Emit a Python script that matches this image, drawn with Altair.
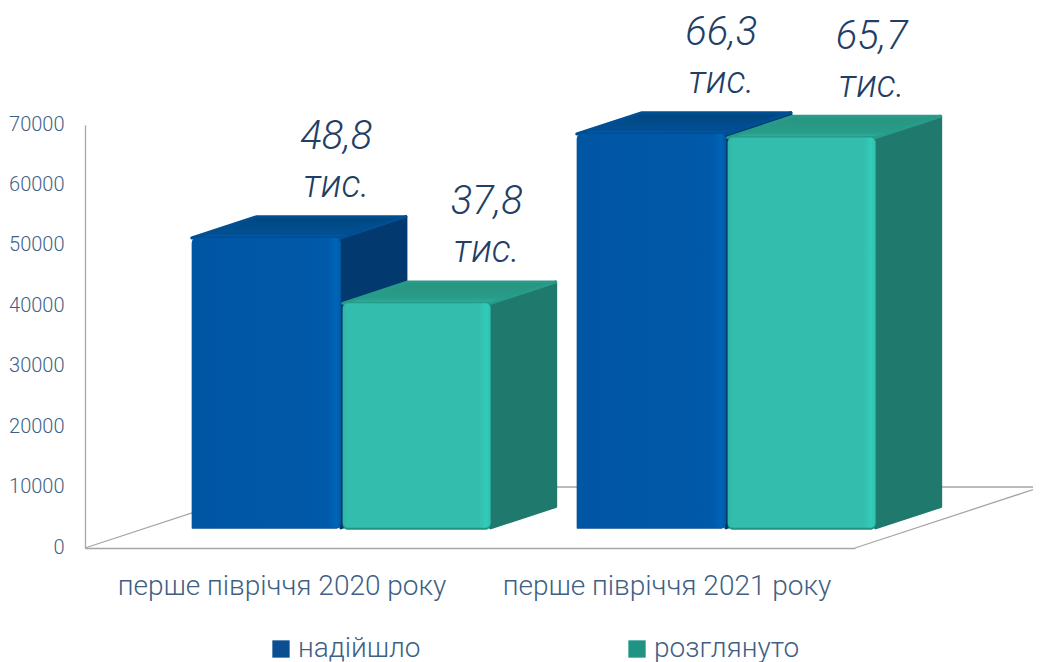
import altair as alt
import pandas as pd

categories = ["перше півріччя 2020 року", "перше півріччя 2021 року"]
series = ["надійшло", "розглянуто"]
received = [48800, 66300]
reviewed = [37800, 65700]
value_labels = [["48,8", "66,3"], ["37,8", "65,7"]]
y_ticks = [0, 10000, 20000, 30000, 40000, 50000, 60000, 70000]

# oblique projection of the 3D chart onto the flat x / y scales
PX_PER_CAT, PX_PER_UNIT = 385.0, 423.0 / 70000
DEPTH_X, DEPTH_Y = 186.0, 61.0
D_FRONT, D_BACK = 0.33, 0.68
SHRINK = 0.983


def px(c, d):
    return c + d * DEPTH_X / PX_PER_CAT


def py(v, d):
    return v * SHRINK + d * DEPTH_Y / PX_PER_UNIT


xs = alt.Scale(domain=[0, 2], nice=False, zero=False)
ys = alt.Scale(domain=[0, 70000], nice=False, zero=False)
colors = alt.Scale(domain=series, range=["#0b4f92", "#1f9485"])

x_axis = alt.Axis(
    values=[0.5, 1.5],
    labelExpr="[" + ",".join(f"'{c}'" for c in categories) + "][datum.value - 0.5]",
    grid=False, ticks=False, domainColor="#a6a6a6", domainWidth=1.6,
    labelFont="Roboto", labelFontSize=28, labelFontWeight=300, labelColor="#3f5f85",
    labelPadding=24, labelOffset=4, labelFlush=False, labelBound=False, labelOverlap=False,
    labelLimit=400,
)
y_axis = alt.Axis(
    values=y_ticks, format="d", grid=False, ticks=False,
    domainColor="#a6a6a6", domainWidth=1.3,
    labelFont="Roboto", labelFontSize=20, labelFontWeight=300, labelColor="#3f5f85",
    labelPadding=21, labelOffset=-1, labelFlush=False, labelBound=False, labelOverlap=False,
)


def X(f):
    return alt.X(f"{f}:Q", scale=xs, axis=x_axis, title=None)


def Y(f):
    return alt.Y(f"{f}:Q", scale=ys, axis=y_axis, title=None)


def grad(stops, x2=1, y2=0):
    return alt.Gradient(
        gradient="linear", x1=0, y1=0, x2=x2, y2=y2,
        stops=[alt.GradientStop(offset=o, color=c) for o, c in stops],
    )


STY = [
    dict(front=[(0, "#0056a3"), (0.9, "#0059a9"), (0.97, "#0064b6"), (1, "#005aa6")],
         side="#02396f", bottom_radius=0, start=0.118, span=0.387,
         top=[(0, "#01477f"), (0.8, "#014f93"), (1, "#005cab")]),
    dict(front=[(0, "#2fb5a6"), (0.03, "#33bdad"), (0.92, "#33bdad"), (0.97, "#33ccb9"), (1, "#2fbfae")],
         side="#20796d", bottom_radius=5, start=0.51, span=0.384,
         top=[(0, "#28957f"), (0.75, "#289c8a"), (1, "#2fb3a0")]),
]

# floor edges
floor_left = pd.DataFrame({"x": [px(0, 0), px(0, 1)], "y": [py(0, 0), py(0, 1)]})
floor_right = pd.DataFrame({"x": [px(2, 0), px(2, 1)], "y": [py(0, 0), py(0, 1)]})
floor_back = pd.DataFrame({"x": [px(0, 1), px(2, 1)], "y": [py(0, 1), py(0, 1)]})

layers = []
for df in (floor_left, floor_right, floor_back):
    layers.append(
        alt.Chart(df).mark_line(color="#a6a6a6", strokeWidth=1.3, clip=False).encode(x=X("x"), y=Y("y"))
    )

label_rows = []
for i, cat in enumerate(categories):
    for s, vals in enumerate((received, reviewed)):
        v = vals[i]
        st = STY[s]
        left = i + st["start"]
        right = left + st["span"]

        side = pd.DataFrame({
            "x": [px(right, D_FRONT), px(right, D_BACK)],
            "y": [py(v, D_FRONT), py(v, D_BACK)],
            "y2": [py(0, D_FRONT), py(0, D_BACK)],
        })
        layers.append(
            alt.Chart(side)
            .mark_area(color=st["side"], stroke=st["side"], strokeWidth=3, strokeJoin="round", clip=False)
            .encode(x=X("x"), y=Y("y"), y2="y2:Q")
        )
        top = pd.DataFrame({
            "y": [py(v, D_FRONT), py(v, D_BACK)],
            "x": [px(left, D_FRONT), px(left, D_BACK)],
            "x2": [px(right, D_FRONT), px(right, D_BACK)],
        })
        layers.append(
            alt.Chart(top)
            .mark_area(orient="horizontal", color=grad(st["top"], x2=0, y2=1),
                       stroke=st["top"][1][1], strokeWidth=3, strokeJoin="round", clip=False)
            .encode(y=Y("y"), x=X("x"), x2="x2:Q")
        )
        front = pd.DataFrame({
            "Серія": [series[s]],
            "x": [px(left, D_FRONT)], "x2": [px(right, D_FRONT)],
            "y": [py(v, D_FRONT)], "y2": [py(0, D_FRONT)],
        })
        corners = dict(cornerRadiusTopLeft=5, cornerRadiusTopRight=5,
                       cornerRadiusBottomLeft=st["bottom_radius"], cornerRadiusBottomRight=5)
        layers.append(
            alt.Chart(front)
            .mark_rect(y2Offset=2 if s else 1, clip=False, **corners)
            .encode(
                x=X("x"), x2="x2:Q", y=Y("y"), y2="y2:Q",
                color=alt.Color(
                    "Серія:N", scale=colors, title=None,
                    legend=alt.Legend(
                        orient="none", legendX=182, legendY=510, direction="horizontal", columns=2,
                        symbolType="square", symbolSize=300, symbolOpacity=1, symbolStrokeWidth=0,
                        labelFont="Roboto", labelFontSize=28, labelFontWeight=300, labelColor="#3f5f85",
                        labelOffset=3, columnPadding=202, padding=0, labelLimit=300,
                    ),
                ),
            )
        )
        layers.append(
            alt.Chart(front)
            .mark_rect(color=grad(st["front"]), clip=False, **corners)
            .encode(x=X("x"), x2="x2:Q", y=Y("y"), y2="y2:Q")
        )
        label_rows.append({
            "x": px((left + right) / 2, D_FRONT), "y": py(v, D_FRONT),
            "num": value_labels[s][i], "unit": "тис.",
        })

labels = pd.DataFrame(label_rows)
for field, size, dy in (("num", 40, -101), ("unit", 38, -52)):
    layers.append(
        alt.Chart(labels)
        .mark_text(font="Roboto", fontStyle="italic", fontWeight=300, fontSize=size,
                   color="#1f3f66", dx=70, dy=dy, baseline="middle", align="center", clip=False)
        .encode(x=X("x"), y=Y("y"), text=f"{field}:N")
    )

chart = (
    alt.layer(*layers)
    .resolve_scale(x="shared", y="shared", color="shared")
    .properties(
        width=770, height=423,
        autosize=alt.AutoSizeParams(type="none"),
        padding={"left": 77, "top": 117, "right": 178, "bottom": 116},
        background="white",
    )
    .configure_view(stroke=None)
)

chart.save("out.html", embed_options={"renderer": "svg", "actions": False})
